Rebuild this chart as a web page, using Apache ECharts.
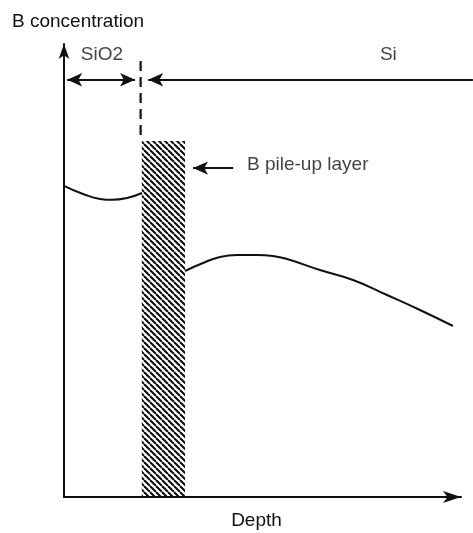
<!DOCTYPE html>
<html><head><meta charset="utf-8">
<script src="https://cdn.jsdelivr.net/npm/echarts@6/dist/echarts.min.js"></script>
<style>html,body{margin:0;padding:0;background:#fff}#c{width:473px;height:533px}</style>
</head><body><div id="c"></div>
<script>
// Schematic data (arbitrary units: depth 0-100, concentration 0-100)
const oxideCurve = [[0,68.7],[4.79,66.9],[9.07,65.8],[12.09,65.6],[15.87,66.0],[19.65,67.1]];
const siliconCurve = [[30.48,49.89],[35.01,51.66],[39.29,52.98],[43.58,53.42],[48.61,53.42],[52.64,53.20],[56.17,52.54],[64.48,50.11],[72.80,47.90],[81.36,44.59],[89.67,41.28],[97.98,37.75]];
const pileUpLayer = [[19.6, 30.5, 78.6]]; // [depth start, depth end, height]
const interfaceLine = [[19.3, 79.9],[19.3, 96.5]];
const oxideSpan = [[0.8, 92.1],[17.9, 92.1]];
const siliconSpan = [[21.2, 92.1],[103, 92.1]];
const pileUpPointer = [[42.6, 72.6],[32.5, 72.6]];
const regionLabels = [{name:'SiO2', value:[9.57,97.6]}, {name:'Si', value:[81.7,97.7]}];
const pileUpLabel = [{name:'B pile-up layer', value:[46.1, 73.3]}];
const xName = 'Depth';
const yName = 'B concentration';

const FONT = '"Liberation Sans", Arial, Helvetica, sans-serif';
const INK = '#111';
const HEAD = [10, 15];

const tile = document.createElement('canvas');
tile.width = 6; tile.height = 6;
const g = tile.getContext('2d');
g.strokeStyle = '#111'; g.lineWidth = 2.1;
for (const o of [-6, 0, 6]) { g.beginPath(); g.moveTo(o, 0); g.lineTo(o + 6, 6); g.stroke(); }

const chart = echarts.init(document.getElementById('c'), null, {renderer: 'canvas'});
chart.setOption({
  animation: false,
  backgroundColor: '#fff',
  grid: {left: 64, top: 44, right: 12, bottom: 36, containLabel: false, outerBoundsMode: 'none'},
  xAxis: {
    type: 'value', min: 0, max: 100,
    name: xName, nameLocation: 'middle', nameGap: 14,
    nameTextStyle: {fontSize: 19, color: INK, fontFamily: FONT, lineHeight: 19, padding: [0, 12, 0, 0]},
    axisLine: {show: true, onZero: false, lineStyle: {color: INK, width: 2}, symbol: ['none', 'arrow'], symbolSize: [9, 18]},
    axisTick: {show: false}, axisLabel: {show: false}, splitLine: {show: false}
  },
  yAxis: {
    type: 'value', min: 0, max: 100,
    name: yName, nameLocation: 'end', nameGap: 13,
    nameTextStyle: {fontSize: 19, color: INK, fontFamily: FONT, lineHeight: 19, padding: [0, 0, 0, 28]},
    axisLine: {show: true, onZero: false, lineStyle: {color: INK, width: 2}, symbol: ['none', 'arrow'], symbolSize: [8, 15]},
    axisTick: {show: false}, axisLabel: {show: false}, splitLine: {show: false}
  },
  series: [
    {
      type: 'custom', name: 'pile-up', clip: false,
      data: pileUpLayer, encode: {x: [0, 1], y: 2},
      renderItem: function (params, api) {
        const p0 = api.coord([api.value(0), api.value(2)]);
        const p1 = api.coord([api.value(1), 0]);
        return {type: 'rect', shape: {x: p0[0], y: p0[1], width: p1[0] - p0[0], height: p1[1] - p0[1]},
          style: {fill: {image: tile, repeat: 'repeat'}}};
      }
    },
    {type: 'line', data: oxideCurve, smooth: true, symbol: 'none', clip: false, lineStyle: {color: INK, width: 2}},
    {type: 'line', data: siliconCurve, smooth: true, symbol: 'none', clip: false, lineStyle: {color: INK, width: 2}},
    {type: 'line', data: interfaceLine, symbol: 'none', clip: false, lineStyle: {color: INK, width: 2.2, type: [10, 6]}},
    {
      type: 'lines', coordinateSystem: 'cartesian2d', clip: false,
      symbol: ['arrow', 'arrow'], symbolSize: [HEAD, HEAD],
      lineStyle: {color: INK, width: 2, opacity: 1},
      data: [{coords: oxideSpan}]
    },
    {
      type: 'lines', coordinateSystem: 'cartesian2d', clip: false,
      symbol: ['arrow', 'none'], symbolSize: [HEAD, HEAD],
      lineStyle: {color: INK, width: 2, opacity: 1},
      data: [{coords: siliconSpan}]
    },
    {
      type: 'lines', coordinateSystem: 'cartesian2d', clip: false,
      symbol: ['none', 'arrow'], symbolSize: [HEAD, HEAD],
      lineStyle: {color: INK, width: 2, opacity: 1},
      data: [{coords: pileUpPointer}]
    },
    {
      type: 'scatter', data: regionLabels, symbolSize: 0, clip: false,
      label: {show: true, position: 'inside', formatter: '{b}', fontSize: 19, color: INK, fontFamily: FONT}
    },
    {
      type: 'scatter', data: pileUpLabel, symbolSize: 0, clip: false,
      label: {show: true, position: 'right', distance: 0, formatter: '{b}', fontSize: 19, color: INK, fontFamily: FONT}
    }
  ]
});
</script>
</body></html>
